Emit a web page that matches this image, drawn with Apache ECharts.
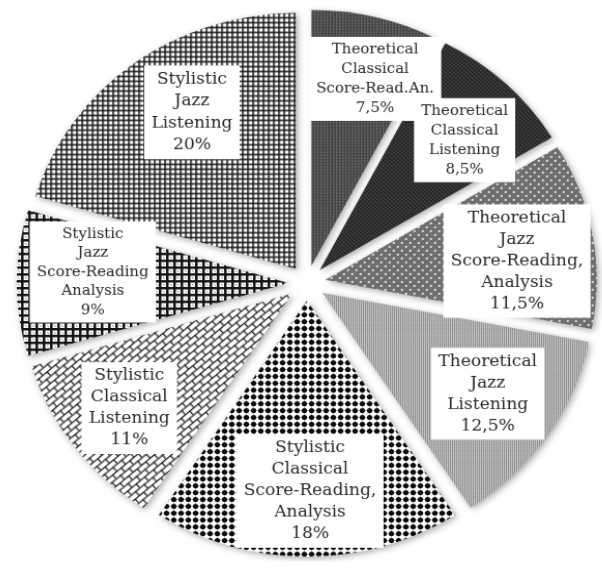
<!DOCTYPE html>
<html>
<head>
<meta charset="utf-8">
<script src="https://cdn.jsdelivr.net/npm/echarts@6/dist/echarts.min.js"></script>
<style>
  html, body { margin: 0; padding: 0; background: #fff; overflow: hidden; }
  /* the pie is drawn slightly wider than tall */
  #chart { width: 602px; height: 568px; transform: scale(1.036, 0.977); transform-origin: 309px 284px; }
</style>
</head>
<body>
<div id="chart"></div>
<script>
// Slice names (clockwise from 12 o'clock) and their shares in percent
const categories = [
  'Theoretical\nClassical\nScore-Read.An.',
  'Theoretical\nClassical\nListening',
  'Theoretical\nJazz\nScore-Reading,\nAnalysis',
  'Theoretical\nJazz\nListening',
  'Stylistic\nClassical\nScore-Reading,\nAnalysis',
  'Stylistic\nClassical\nListening',
  'Stylistic\nJazz\nScore-Reading\nAnalysis',
  'Stylistic\nJazz\nListening'
];
const shares = [7.5, 8.5, 11.5, 12.5, 18, 11, 9, 20];

// ---- fill textures -------------------------------------------------------
function tile(w, h, draw) {
  const c = document.createElement('canvas');
  c.width = w; c.height = h;
  const g = c.getContext('2d');
  draw(g, w, h);
  return c;
}
function px(g, color, pts) {
  g.fillStyle = color;
  pts.forEach(p => g.fillRect(p[0], p[1], 1, 1));
}

const textures = [
  // dark grey fine weave
  { image: tile(3, 3, (g) => { g.fillStyle = '#424242'; g.fillRect(0, 0, 3, 3); px(g, '#9a9a9a', [[1, 1]]); px(g, '#5a5a5a', [[1, 0], [1, 2]]); }) },
  // near-black fine diagonal
  { image: tile(4, 4, (g) => { g.fillStyle = '#262626'; g.fillRect(0, 0, 4, 4); px(g, '#6c6c6c', [[0, 0], [2, 2]]); px(g, '#3c3c3c', [[1, 1], [3, 3]]); }) },
  // mid grey with white dots
  { image: tile(8, 8, (g) => {
      g.fillStyle = '#6c6c6c'; g.fillRect(0, 0, 8, 8);
      px(g, '#7c7c7c', [[1, 0], [3, 0], [5, 2], [7, 2], [1, 4], [3, 6], [5, 6], [7, 4]]);
      g.fillStyle = '#e4e4e4'; g.fillRect(0, 0, 2, 2); g.fillRect(4, 4, 2, 2);
    }) },
  // light grey fine vertical lines
  { image: tile(2, 2, (g) => { g.fillStyle = '#8e8e8e'; g.fillRect(0, 0, 1, 2); g.fillStyle = '#d2d2d2'; g.fillRect(1, 0, 1, 2); px(g, '#bcbcbc', [[1, 1]]); }) },
  // black dots on white
  { image: tile(7, 7, (g) => {
      g.fillStyle = '#fff'; g.fillRect(0, 0, 7, 7);
      g.fillStyle = '#b0b0b0'; g.fillRect(0, 3, 7, 1); g.fillRect(3, 0, 1, 7);
      g.fillStyle = '#0a0a0a'; g.beginPath(); g.arc(3.5, 3.5, 2.6, 0, Math.PI * 2); g.fill();
    }) },
  // diagonal bricks
  { image: tile(22, 11, (g) => {
      g.fillStyle = '#fff'; g.fillRect(0, 0, 22, 11);
      g.fillStyle = '#111';
      g.fillRect(0, 0, 22, 1.2); g.fillRect(0, 5.5, 22, 1.2);
      g.fillRect(0, 0, 1.2, 5.5); g.fillRect(11, 0, 1.2, 5.5);
      g.fillRect(5.5, 5.5, 1.2, 5.5); g.fillRect(16.5, 5.5, 1.2, 5.5);
    }), rotation: -0.72 },
  // bold grid of white squares
  { image: tile(7, 7, (g) => {
      g.fillStyle = '#fff'; g.fillRect(0, 0, 7, 7);
      g.fillStyle = '#141414'; g.fillRect(0, 0, 7, 2.5); g.fillRect(0, 0, 2.5, 7);
      px(g, '#9a9a9a', [[4, 4], [5, 5]]);
    }) },
  // fine black grid
  { image: tile(5, 5, (g) => {
      g.fillStyle = '#fff'; g.fillRect(0, 0, 5, 5);
      g.fillStyle = '#1a1a1a'; g.fillRect(0, 0, 5, 1.6); g.fillRect(0, 0, 1.6, 5);
    }) }
];

// label text size per slice (narrow slices use the smaller face)
const labelFont = [14.5, 14.5, 16.5, 16.5, 16.5, 16.5, 14.5, 16.5];
const labelLine = [20, 20, 22, 22, 22, 22, 19.5, 22.5];
// label placement: distance from the pie centre and a small turn off the mid-angle (deg)
const labelDist = [219, 211, 204, 208, 213, 214, 207, 207];
const labelTurn = [3.7, 3.0, 3.8, -1.0, -0.8, 0, 3.1, 4.3];

// ---- geometry --------------------------------------------------------------
const CX = 307, CY = 283, R = 262, EXPLODE = 18;
const total = shares.reduce((a, b) => a + b, 0);
const midAngles = [];
{
  let acc = 0;
  shares.forEach(v => { midAngles.push((acc + v / 2) / total * Math.PI * 2); acc += v; });
}

const fmt = v => String(v).replace('.', ',') + '%';

const chart = echarts.init(document.getElementById('chart'), null, { renderer: 'canvas' });
chart.setOption({
  animation: false,
  backgroundColor: '#fff',
  series: [{
    type: 'pie',
    center: [CX, CY],
    radius: [0, R],
    startAngle: 90,
    clockwise: true,
    selectedMode: 'multiple',
    selectedOffset: EXPLODE,
    emphasis: { disabled: true },
    itemStyle: {
      borderWidth: 0,
      shadowBlur: 6,
      shadowColor: 'rgba(0,0,0,0.32)',
      shadowOffsetX: 2,
      shadowOffsetY: 2
    },
    label: {
      show: true,
      position: 'inside',
      fontFamily: 'DejaVu Serif',
      color: '#2a2a2a',
      backgroundColor: '#fff',
      padding: [3, 7],
      align: 'center',
      overflow: 'none',
      formatter: p => p.name + '\n' + fmt(p.value)
    },
    labelLine: { show: false },
    labelLayout: p => {
      const i = p.dataIndex;
      const m = midAngles[i];
      const a = m + labelTurn[i] * Math.PI / 180;
      // the label already travels with its exploded slice, so aim at the un-exploded spot
      const tx = CX + labelDist[i] * Math.sin(a) - EXPLODE * Math.sin(m);
      const ty = CY - labelDist[i] * Math.cos(a) + EXPLODE * Math.cos(m);
      const r = p.labelRect;
      return { dx: tx - (r.x + r.width / 2), dy: ty - (r.y + r.height / 2) };
    },
    data: categories.map((name, i) => ({
      name: name,
      value: shares[i],
      selected: true,
      itemStyle: { color: Object.assign({ repeat: 'repeat' }, textures[i]) },
      label: { fontSize: labelFont[i], lineHeight: labelLine[i] }
    }))
  }]
});
</script>
</body>
</html>
